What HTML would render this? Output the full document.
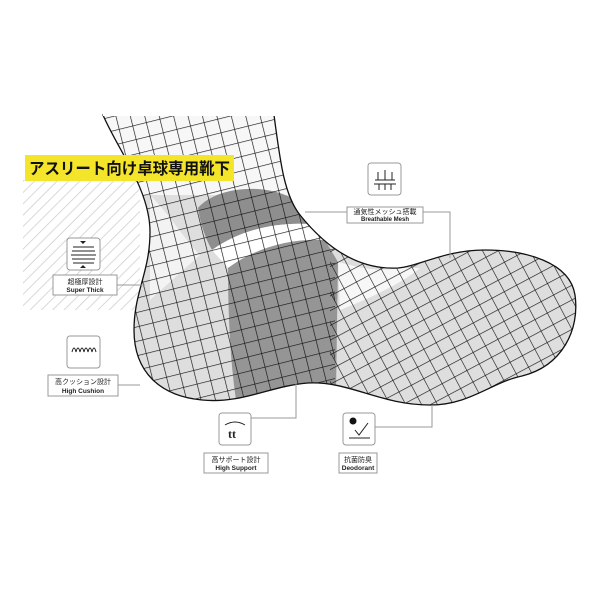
<!DOCTYPE html>
<html><head><meta charset="utf-8"><style>
html,body{margin:0;padding:0;background:#fff;width:600px;height:600px;overflow:hidden}
svg{display:block}
.jp{font-family:"Liberation Sans","Noto Sans CJK JP",sans-serif}
</style></head><body>
<svg width="600" height="600" viewBox="0 0 600 600" xmlns="http://www.w3.org/2000/svg">
<defs>
<pattern id="hatch" width="8" height="8" patternUnits="userSpaceOnUse" patternTransform="rotate(45)">
<rect width="8" height="8" fill="#fff"/><line x1="0" y1="0" x2="0" y2="8" stroke="#cfcfcf" stroke-width="1.6"/>
</pattern>
<pattern id="grid" width="14" height="14" patternUnits="userSpaceOnUse" patternTransform="rotate(-14)">
<path d="M0 0H14M0 0V14" stroke="#111" stroke-width="1.3" fill="none"/>
</pattern>
<pattern id="grid2" width="14" height="13" patternUnits="userSpaceOnUse" patternTransform="rotate(-28)">
<path d="M0 0H14M0 0V13" stroke="#111" stroke-width="1.2" fill="none"/>
</pattern>
<clipPath id="sock"><path id="sp" d="M103,115 C118,150 150,190 150,232 C150,272 134,292 134,330 C134,372 160,396 202,400 C242,404 270,386 308,383 C350,381 380,405 430,405 C470,405 492,382 522,376 C562,366 580,330 575,295 C570,262 525,250 485,250 C445,250 420,266 398,268 C360,270 328,250 300,215 C284,195 280,160 274,115 Z"/></clipPath>
</defs>
<rect x="23" y="180" width="117" height="130" fill="url(#hatch)"/>
<g clip-path="url(#sock)">
<rect x="0" y="0" width="600" height="600" fill="#dedede"/>
<rect x="100" y="100" width="190" height="95" fill="#f7f7f7"/>
<path d="M150,195 C170,215 185,240 200,255 L150,300 Z" fill="#f3f3f3"/>
<path d="M198,208 C215,188 260,182 292,198 L310,224 C275,222 240,230 212,250 C205,238 200,222 198,208 Z" fill="#8e8e8e"/>
<path d="M212,250 C240,230 275,222 310,224 L325,240 C290,238 255,248 228,268 Z" fill="#fff"/>
<path d="M228,268 C255,248 290,238 325,240 L338,262 L336,392 C300,386 260,392 236,400 C230,360 228,310 228,268 Z" fill="#959595"/>
<path d="M338,262 C360,268 380,272 398,268 L420,268 C400,285 365,300 340,310 Z" fill="#f7f7f7"/>
<rect x="0" y="0" width="335" height="600" fill="url(#grid)"/>
<rect x="330" y="240" width="270" height="200" fill="url(#grid2)"/>
</g>
<use href="#sp" fill="none" stroke="#111" stroke-width="1.3"/>
<rect x="103" y="110" width="172" height="6" fill="#fff"/>
<rect x="25" y="155" width="209" height="26" fill="#f5e52a"/>
<text x="29" y="174" class="jp" font-size="16" font-weight="700" fill="#111" textLength="201" lengthAdjust="spacingAndGlyphs">アスリート向け卓球専用靴下</text>
<g fill="#fff" stroke="#999" stroke-width="1">
<rect x="67" y="238" width="33" height="32" rx="3"/>
<rect x="53" y="275" width="64" height="20"/>
<rect x="67" y="336" width="33" height="32" rx="3"/>
<rect x="48" y="375" width="70" height="21"/>
<rect x="368" y="163" width="33" height="32" rx="3"/>
<rect x="347" y="207" width="76" height="16"/>
<rect x="219" y="413" width="32" height="32" rx="3"/>
<rect x="204" y="453" width="64" height="20"/>
<rect x="343" y="413" width="32" height="32" rx="3"/>
<rect x="339" y="453" width="38" height="20"/>
</g>
<g stroke="#999" fill="none" stroke-width="1">
<path d="M117,285 H145"/><path d="M118,385 H140"/>
<path d="M347,212 H305"/><path d="M423,212 H450 V258"/>
<path d="M251,418 H296 V383"/><path d="M375,427 H432 V405"/>
</g>
<g stroke="#222" stroke-width="1" fill="none">
<path d="M73,247h21M72,251h23M71,255h25M72,259h23M73,263h21"/>
<path d="M72,352 q2,-8 4,0 q2,-8 4,0 q2,-8 4,0 q2,-8 4,0 q2,-8 4,0 q2,-8 4,0"/>
<path d="M375,180h20M374,184h22M378,172v8M385,170v10M392,172v8M379,184v6M385,184v6M391,184v6"/>
<path d="M225,425 q10,-6 20,0"/>
<path d="M349,438h21M355,430l4,5l9,-12"/>
</g>
<path d="M80,241h6l-3,3zM80,268h6l-3,-3z" fill="#222"/>
<text x="228" y="438" font-family="Liberation Serif,serif" font-size="12" font-weight="700" fill="#222">tt</text>
<circle cx="353" cy="421" r="3.5" fill="#111"/>
<g class="jp" font-size="7" fill="#222" text-anchor="middle">
<text x="85" y="284">超極厚設計</text><text x="85" y="292" font-weight="700" font-size="6.5">Super Thick</text>
<text x="83" y="384">高クッション設計</text><text x="83" y="393" font-weight="700" font-size="6.5">High Cushion</text>
<text x="385" y="214">通気性メッシュ搭載</text><text x="385" y="221" font-weight="700" font-size="6">Breathable Mesh</text>
<text x="236" y="462">高サポート設計</text><text x="236" y="470" font-weight="700" font-size="6.5">High Support</text>
<text x="358" y="462">抗菌防臭</text><text x="358" y="470" font-weight="700" font-size="6.5">Deodorant</text>
</g>
</svg>
</body></html>
